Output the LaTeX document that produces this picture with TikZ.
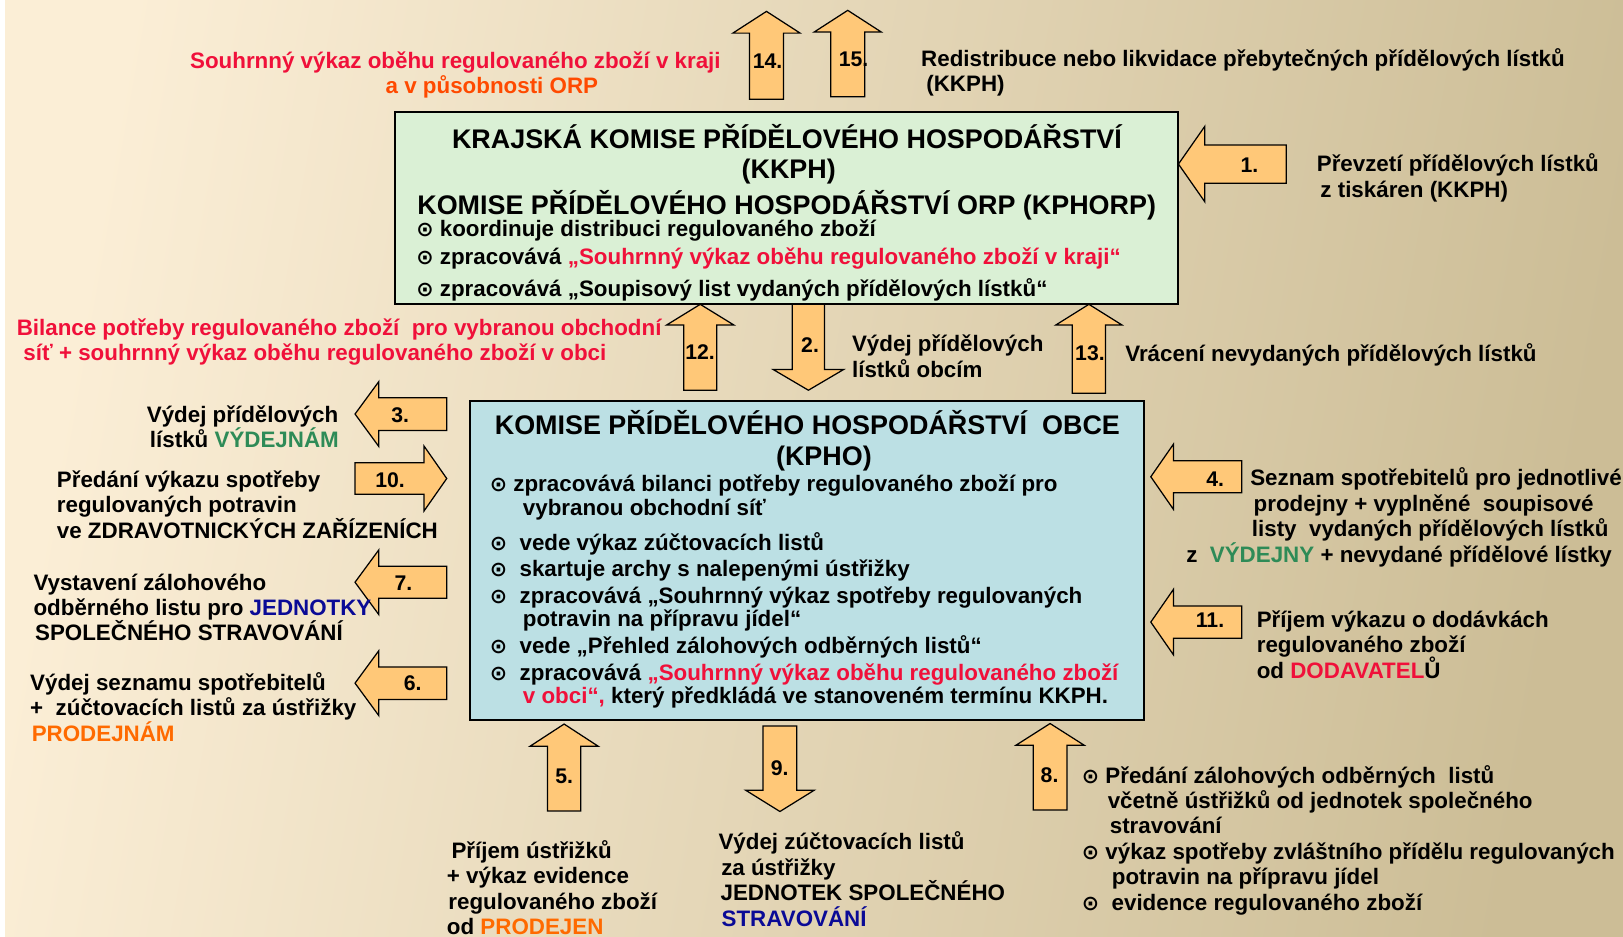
\documentclass[tikz,border=0pt]{standalone}
\usepackage{fontspec}
\setmainfont{Liberation Sans}
\newfontfamily\symf{DejaVu Sans}
\definecolor{redA}{HTML}{F0103A}
\definecolor{orgA}{HTML}{FF4A00}
\definecolor{grnA}{HTML}{2E8B57}
\definecolor{bluA}{HTML}{0A0A96}
\definecolor{orgB}{HTML}{FF6A00}
\definecolor{boxG}{HTML}{DAF0D5}
\definecolor{boxB}{HTML}{BCE0E4}
\definecolor{arrF}{HTML}{FFC878}
\definecolor{bgL}{HTML}{FBEED6}
\definecolor{bgM}{HTML}{EDE2C6}
\definecolor{bgR}{HTML}{CCBD96}
\newcommand\bul{\raisebox{0pt}{\symf\bfseries\fontsize{20}{20}\selectfont ⊙}}
\newcommand\ML[1]{\vtop{\baselineskip=24.6pt\lineskiplimit=-30pt\lineskip=0pt\halign{##\hfil\cr#1\crcr}}}
\newcommand\BlkV[6]{\draw[blk] (#1,#2) -- (#1+#6,#3) -- (#1+#5,#3) -- (#1+#5,#4) -- (#1-#5,#4) -- (#1-#5,#3) -- (#1-#6,#3) -- cycle;}
\newcommand\BlkH[6]{\draw[blk] (#2,#1) -- (#3,#1-#6) -- (#3,#1-#5) -- (#4,#1-#5) -- (#4,#1+#5) -- (#3,#1+#5) -- (#3,#1+#6) -- cycle;}
\tikzset{
  blk/.style={draw=black, fill=arrF, line width=1.2pt, line join=miter},
  lbl/.style={font=\bfseries\fontsize{21.6}{24.6}\selectfont, inner sep=0pt, anchor=base west},
  ttl/.style={font=\bfseries\fontsize{26}{28}\selectfont, inner sep=0pt, anchor=base},
  num/.style={font=\bfseries\fontsize{20.5}{22}\selectfont, inner sep=0pt, anchor=center},
  boxstyle/.style={draw=black, line width=2pt},
}
\begin{document}
\begin{tikzpicture}[x=1pt,y=-1pt]
\useasboundingbox (0,0) rectangle (1568,905);
\fill[white] (0,0) rectangle (6,905);
\shade[top color=bgL, middle color=bgM, bottom color=bgR, shading angle=80] (5,0) rectangle (1568,905);

% boxes
\fill[boxG] (382,108) rectangle (1138,294);
\draw[boxstyle] (382,108) rectangle (1138,294);
\coordinate (kkph) at (760,201);
\fill[boxB] (454,387) rectangle (1105.6,695.6);
\draw[boxstyle] (454,387) rectangle (1105.6,695.6);
\coordinate (kpho) at (780,541);

% block arrows
\BlkV{740.5}{11}{32}{96}{16.5}{32.5}
\BlkV{819}{10}{31}{93.5}{16.5}{32.5}
\BlkV{676.5}{294}{314}{377}{16}{32.5}
\BlkV{781}{377}{357}{294}{15.5}{34}
\BlkV{1052}{294}{314}{380}{16}{32}
\BlkV{545}{699.5}{721}{783.5}{16}{33}
\BlkV{753.5}{784}{763.5}{701.5}{16.3}{33}
\BlkV{1014.5}{699}{720}{782.6}{16.3}{33}
\BlkH{158.5}{1138.5}{1164}{1242.6}{18.5}{36.5}
\BlkH{400}{343}{366}{431.6}{15.8}{31.4}
\BlkH{462.3}{431.6}{409.7}{343}{15.3}{31.3}
\BlkH{562.5}{343}{366}{431.6}{15.5}{31.3}
\BlkH{660}{343}{366}{431.6}{15.7}{31.4}
\BlkH{460.6}{1111.8}{1133.6}{1199.7}{15.5}{31.4}
\BlkH{601}{1111.8}{1133.6}{1199.7}{15.6}{31.5}

% arrow numbers
\node[num] (n14) at (741.5,59.6) {14.};
\node[num] (n15) at (824.7,57.3) {15.};
\node[num] (n1) at (1207,159.4) {1.};
\node[num] (n12) at (676.4,340) {12.};
\node[num] (n2) at (782.6,333) {2.};
\node[num] (n13) at (1053,341) {13.};
\node[num] (n3) at (386.6,401) {3.};
\node[num] (n10) at (376.8,463.8) {10.};
\node[num] (n7) at (389.7,563) {7.};
\node[num] (n6) at (398.7,660.2) {6.};
\node[num] (n4) at (1174,462.8) {4.};
\node[num] (n11) at (1169,599) {11.};
\node[num] (n5) at (545,749.8) {5.};
\node[num] (n9) at (753.3,742.4) {9.};
\node[num] (n8) at (1014,748.8) {8.};

% box 1 text
\node[ttl] (k1) at (760.3,143) {KRAJSKÁ KOMISE PŘÍDĚLOVÉHO HOSPODÁŘSTVÍ};
\node[ttl] (k2) at (762,172) {(KKPH)};
\node[ttl] (k3) at (760,207) {KOMISE PŘÍDĚLOVÉHO HOSPODÁŘSTVÍ ORP (KPHORP)};
\node[lbl] (k4) at (402,228.5) {\bul\ koordinuje distribuci regulovaného zboží};
\node[lbl] (k5) at (402,256) {\bul\ zpracovává \textcolor{redA}{„Souhrnný výkaz oběhu regulovaného zboží v kraji“}};
\node[lbl] (k6) at (402,286) {\bul\ zpracovává „Soupisový list vydaných přídělových lístků“};

% box 2 text
\node[ttl] (o1) at (780,420) {KOMISE PŘÍDĚLOVÉHO HOSPODÁŘSTVÍ\ \ OBCE};
\node[ttl] (o2) at (796,450) {(KPHO)};
\node[lbl] (o3) at (473,475) {\bul\ zpracovává bilanci potřeby regulovaného zboží pro};
\node[lbl] (o4) at (505,498) {vybranou obchodní síť};
\node[lbl] (o5) at (473,532) {\bul\ \ vede výkaz zúčtovacích listů};
\node[lbl] (o6) at (473,557) {\bul\ \ skartuje archy s nalepenými ústřižky};
\node[lbl] (o7) at (473,583) {\bul\ \ zpracovává „Souhrnný výkaz spotřeby regulovaných};
\node[lbl] (o8) at (505,605) {potravin na přípravu jídel“};
\node[lbl] (o9) at (473,631) {\bul\ \ vede „Přehled zálohových odběrných listů“};
\node[lbl] (o10) at (473,657) {\bul\ \ zpracovává \textcolor{redA}{„Souhrnný výkaz oběhu regulovaného zboží}};
\node[lbl] (o11) at (505,680) {\textcolor{redA}{v obci“,} který předkládá ve stanoveném termínu KKPH.};

% outside texts
\node[lbl, text=redA] (t14a) at (183.5,66) {Souhrnný výkaz oběhu regulovaného zboží v kraji};
\node[lbl, text=orgA] (t14b) at (372.4,90.5) {a v působnosti ORP};
\node[lbl] (t15) at (889.8,64) {\ML{Redistribuce nebo likvidace přebytečných přídělových lístků\cr\hspace*{5pt}(KKPH)}};
\node[lbl] (t1) at (1272,166) {\ML{Převzetí přídělových lístků\cr\hspace*{3.5pt}z tiskáren (KKPH)}};
\node[lbl, text=redA] (tB) at (16,324) {\ML{Bilance potřeby regulovaného zboží\ \ pro vybranou obchodní\cr\hspace*{6.5pt}síť + souhrnný výkaz oběhu regulovaného zboží v obci}};
\node[lbl] (t2) at (823,340) {\ML{Výdej přídělových\cr lístků obcím}};
\node[lbl] (t13) at (1087,349.5) {Vrácení nevydaných přídělových lístků};

\node[lbl] (t3) at (141.7,408) {\ML{Výdej přídělových\cr\hspace*{3pt}lístků \textcolor{grnA}{VÝDEJNÁM}}};
\node[lbl] (t10) at (54.8,471) {\ML{Předání výkazu spotřeby\cr regulovaných potravin\cr ve ZDRAVOTNICKÝCH ZAŘÍZENÍCH}};
\node[lbl] (t7) at (32.2,570) {\ML{Vystavení zálohového\cr odběrného listu pro \textcolor{bluA}{JEDNOTKY}\cr\hspace*{1.5pt}SPOLEČNÉHO STRAVOVÁNÍ}};
\node[lbl] (t6) at (29,667) {\ML{Výdej seznamu spotřebitelů\cr +\ \ zúčtovacích listů za ústřižky\cr\hspace*{1.5pt}\textcolor{orgB}{PRODEJNÁM}}};

\node[lbl] (t4) at (1207.7,469.5) {\ML{Seznam spotřebitelů pro jednotlivé\cr\hspace*{3.3pt}prodejny + vyplněné\ \ soupisové\cr\hspace*{1.6pt}listy\ \ vydaných přídělových lístků}};
\node[lbl] (t4b) at (1145.9,543) {z\ \ \textcolor{grnA}{VÝDEJNY} + nevydané přídělové lístky};
\node[lbl] (t11) at (1214,606) {\ML{Příjem výkazu o dodávkách\cr regulovaného zboží\cr od \textcolor{redA}{DODAVATEL}Ů}};

\node[lbl] (t5) at (431.6,829) {\ML{\hspace*{4.4pt}Příjem ústřižků\cr + výkaz evidence\cr\hspace*{1.4pt}regulovaného zboží\cr od \textcolor{orgB}{PRODEJEN}}};
\node[lbl] (t9) at (694,821) {\ML{Výdej zúčtovacích listů\cr\hspace*{2.6pt}za ústřižky\cr\hspace*{2pt}JEDNOTEK SPOLEČNÉHO\cr\hspace*{3pt}\textcolor{bluA}{STRAVOVÁNÍ}}};
\node[lbl] (t8) at (1045,756.5) {\ML{\bul\ Předání zálohových odběrných\ \ listů\cr\hspace*{25pt}včetně ústřižků od jednotek společného\cr\hspace*{27pt}stravování\cr\bul\ výkaz spotřeby zvláštního přídělu regulovaných\cr\hspace*{29pt}potravin na přípravu jídel\cr\bul\ \ evidence regulovaného zboží}};
\end{tikzpicture}
\end{document}
